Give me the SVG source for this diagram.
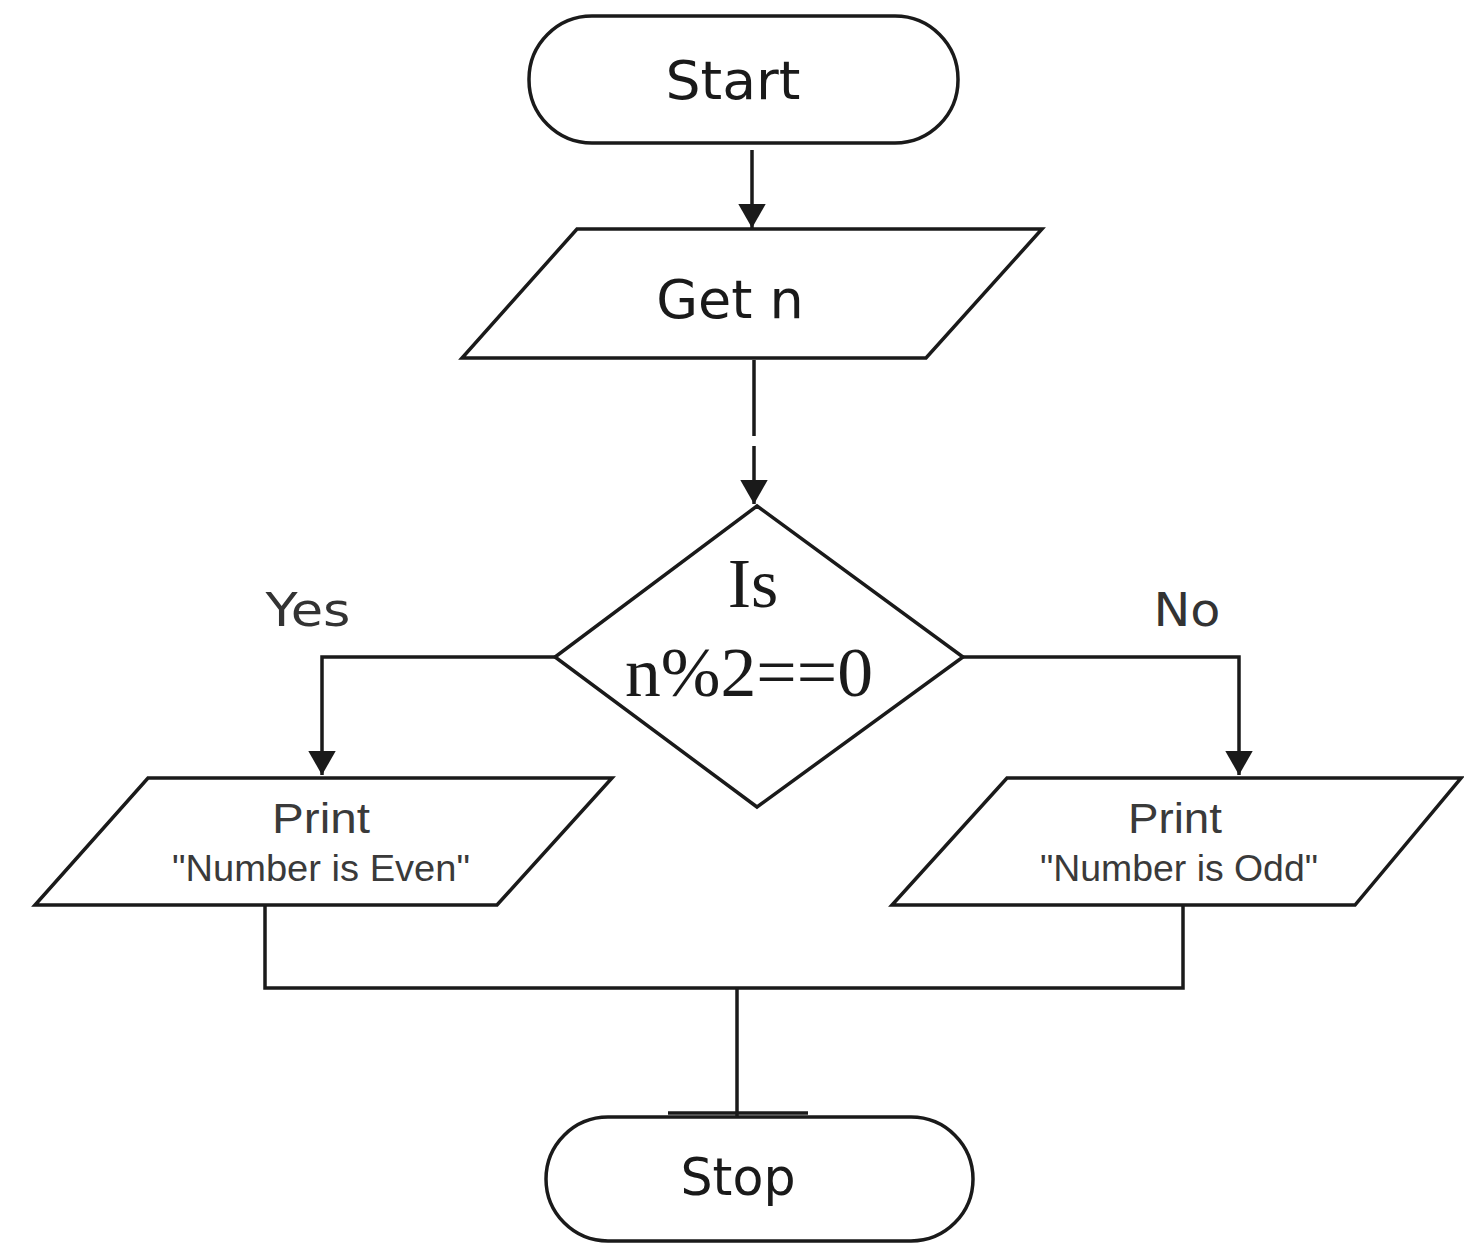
<svg xmlns="http://www.w3.org/2000/svg" width="1464" height="1244" viewBox="0 0 1464 1244">
<style>
.shape{fill:#fff;stroke:#1a1a1a;stroke-width:3.5}
.conn{fill:none;stroke:#1a1a1a;stroke-width:3.5}
.t{font-family:"DejaVu Sans","Liberation Sans",sans-serif;fill:#1a1a1a;text-anchor:middle}
.s{font-family:"Liberation Serif","DejaVu Serif",serif;fill:#1a1a1a;text-anchor:middle}
.small{font-family:"Liberation Sans Narrow","Liberation Sans",sans-serif;fill:#3a3a3a;text-anchor:middle}
.lbl{font-family:"DejaVu Sans","Liberation Sans",sans-serif;fill:#333;text-anchor:middle;font-size:46px}
</style>
<defs>
<marker id="arr" markerWidth="8" markerHeight="10" refX="7" refY="5" orient="auto" markerUnits="strokeWidth">
<path d="M0,1 L7,5 L0,9 Z" fill="#1a1a1a"/>
</marker>
</defs>
<rect width="1464" height="1244" fill="#fff"/>
<g id="connectors">
<line class="conn" x1="752" y1="150" x2="752" y2="228" marker-end="url(#arr)"/>
<line class="conn" x1="754" y1="360" x2="754" y2="436"/>
<line class="conn" x1="754" y1="446" x2="754" y2="504" marker-end="url(#arr)"/>
<polyline class="conn" points="555,657 322,657 322,775" marker-end="url(#arr)"/>
<polyline class="conn" points="963,657 1239,657 1239,775" marker-end="url(#arr)"/>
<polyline class="conn" points="265,905 265,988 1183,988 1183,905"/>
<line class="conn" x1="737" y1="988" x2="737" y2="1120" stroke-width="2.5"/>
<line class="conn" x1="668" y1="1113" x2="808" y2="1113" stroke-width="3"/>
</g>
<g id="start">
<rect class="shape" x="529" y="16" width="429" height="127" rx="63" ry="63"/>
<text class="t" x="733" y="99" font-size="54" textLength="135" lengthAdjust="spacingAndGlyphs">Start</text>
</g>
<g id="getn">
<polygon class="shape" points="577,229 1042,229 926,358 462,358"/>
<text class="t" x="730" y="318" font-size="54">Get n</text>
</g>
<g id="decision">
<polygon class="shape" points="757,506 963,657 757,807 555,657"/>
<text class="s" x="753" y="607" font-size="70">Is</text>
<text class="s" x="749" y="696" font-size="70" textLength="248" lengthAdjust="spacingAndGlyphs">n%2==0</text>
</g>
<text class="lbl" x="308" y="626" textLength="85" lengthAdjust="spacingAndGlyphs">Yes</text>
<text class="lbl" x="1187" y="626" textLength="67" lengthAdjust="spacingAndGlyphs">No</text>
<g id="print-even">
<polygon class="shape" points="148,778 612,778 497,905 35,905"/>
<text class="small" x="321" y="833" font-size="42" textLength="98" lengthAdjust="spacingAndGlyphs">Print</text>
<text class="small" x="321" y="881" font-size="36" textLength="298" lengthAdjust="spacingAndGlyphs">"Number is Even"</text>
</g>
<g id="print-odd">
<polygon class="shape" points="1007,778 1461,778 1355,905 892,905"/>
<text class="small" x="1175" y="833" font-size="42" textLength="94" lengthAdjust="spacingAndGlyphs">Print</text>
<text class="small" x="1179" y="881" font-size="36" textLength="278" lengthAdjust="spacingAndGlyphs">"Number is Odd"</text>
</g>
<g id="stop">
<rect class="shape" x="546" y="1117" width="427" height="124" rx="62" ry="62"/>
<text class="t" x="738" y="1195" font-size="52" textLength="115" lengthAdjust="spacingAndGlyphs">Stop</text>
</g>
</svg>
